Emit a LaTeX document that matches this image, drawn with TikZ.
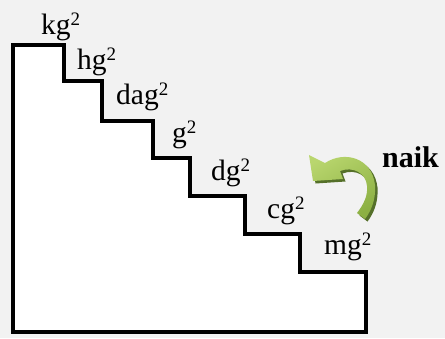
\documentclass[tikz,border=0pt]{standalone}
\usepackage{fontspec}
\setmainfont{Liberation Serif}
\definecolor{bg}{HTML}{F2F2F2}
\definecolor{glight}{HTML}{B9D66E}
\definecolor{gdark}{HTML}{8CB043}
\definecolor{gshadow}{HTML}{55702A}
\newcommand\sqtwo{\raisebox{0.3em}{\fontsize{19}{19}\selectfont 2}}
\tikzset{
  unit/.style={anchor=base west, inner sep=0pt, font=\fontsize{29.5}{30}\selectfont},
  word/.style={anchor=base west, inner sep=0pt, font=\fontsize{30}{30}\selectfont\bfseries},
  stairs/.style={draw=black, line width=3.4pt, fill=white, line join=miter},
}
\begin{document}
\begin{tikzpicture}[x=1pt,y=-1pt]
\fill[bg] (0,0) rectangle (445,338);
\useasboundingbox (0,0) rectangle (445,338);
% staircase
\draw[stairs] (13,45) -- (64,45) -- (64,81) -- (102,81) -- (102,121) -- (153,121)
  -- (153,158) -- (190,158) -- (190,196) -- (245,196) -- (245,234) -- (300,234)
  -- (300,272) -- (366,272) -- (366,332) -- (13,332) -- cycle;
% labels
\node[unit] (kg) at (41,34) {kg\sqtwo};
\node[unit] (hg) at (77,69) {hg\sqtwo};
\node[unit] (dag) at (116,104) {dag\sqtwo};
\node[unit] (g) at (172,142) {g\sqtwo};
\node[unit] (dg) at (211,180) {dg\sqtwo};
\node[unit] (cg) at (267,218) {cg\sqtwo};
\node[unit] (mg) at (324,254) {mg\sqtwo};
\node[word] (naik) at (382,167) {naik};
% curved arrow
\def\arrowpath{(309,155) -- (325,163) .. controls (345,150) and (372,158) .. (375,185)
  .. controls (376,200) and (371,211) .. (365,219) -- (357,213)
  .. controls (364,204) and (368,195) .. (367,186)
  .. controls (366,173) and (353,166) .. (340,171) -- (343,179) -- (313,181) -- cycle}
\fill[gshadow, shift={(2.5,2.5)}] \arrowpath;
\shade[top color=glight, bottom color=gdark, shading angle=30] \arrowpath;
\end{tikzpicture}
\end{document}
